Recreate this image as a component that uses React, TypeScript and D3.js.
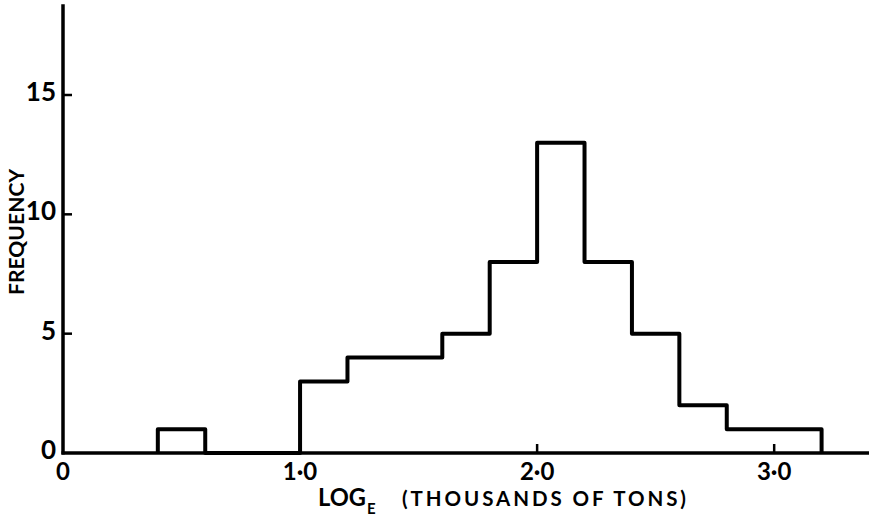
import React from "react";
import * as d3 from "d3";

// histogram bins (log_e thousands of tons), width 0.2
const binStarts = [0.4, 0.6, 0.8, 1.0, 1.2, 1.4, 1.6, 1.8, 2.0, 2.2, 2.4, 2.6, 2.8, 3.0];
const frequencies = [1, 0, 0, 3, 4, 4, 5, 8, 13, 8, 5, 2, 1, 1];
const binWidth = 0.2;

const yTicks = [0, 5, 10, 15];
const xTicks = [0, 1, 2, 3];
const xTickLabels = ["0", "1\u00b70", "2\u00b70", "3\u00b70"];

const WIDTH = 874;
const HEIGHT = 523;
const FONT = "Lato, 'Open Sans', sans-serif";

const App: React.FC = () => {
  const x = d3.scaleLinear().domain([0, 3.4]).range([63, 869]);
  const y = d3.scaleLinear().domain([0, 15]).range([453, 95]);

  // outline of the histogram as one step path
  const pts: [number, number][] = [[binStarts[0], 0]];
  binStarts.forEach((b, i) => {
    pts.push([b, frequencies[i]]);
    pts.push([b + binWidth, frequencies[i]]);
  });
  pts.push([binStarts[binStarts.length - 1] + binWidth, 0]);

  const outline = d3
    .line<[number, number]>()
    .x((d) => x(d[0]))
    .y((d) => y(d[1]))(pts);

  const x0 = x(0);
  const y0 = y(0);

  return (
    <div style={{ position: "absolute", left: 0, top: 0 }}>
      <svg width={WIDTH} height={HEIGHT} style={{ display: "block", background: "#fff" }}>
        {/* axes */}
        <line x1={x0} y1={y(18.8)} x2={x0} y2={y0 + 1.5} stroke="#000" strokeWidth={3.5} />
        <line x1={x0 - 1.5} y1={y0} x2={x(3.4)} y2={y0} stroke="#000" strokeWidth={3.5} />

        {/* y ticks */}
        {yTicks.map((t) => (
          <g key={"y" + t}>
            {t > 0 && (
              <line x1={x0} y1={y(t)} x2={x0 + 9} y2={y(t)} stroke="#000" strokeWidth={2.5} />
            )}
            <text
              x={x0 - 7}
              y={y(t) - 4}
              textAnchor="end"
              dominantBaseline="central"
              fontFamily={FONT}
              fontWeight="bold"
              fontSize={26}
            >
              {t}
            </text>
          </g>
        ))}

        {/* x ticks */}
        {xTicks.map((t, i) => (
          <g key={"x" + t}>
            {t > 0 && (
              <line x1={x(t)} y1={y0} x2={x(t)} y2={y0 - 9} stroke="#000" strokeWidth={2.5} />
            )}
            <text
              x={x(t)}
              y={y0 + 27}
              textAnchor="middle"
              fontFamily={FONT}
              fontWeight="bold"
              fontSize={24}
            >
              {xTickLabels[i]}
            </text>
          </g>
        ))}

        {/* histogram */}
        <path d={outline ?? ""} fill="none" stroke="#000" strokeWidth={4} strokeLinejoin="round" />

        {/* axis titles */}
        <text
          transform={`translate(24, 232) rotate(-90)`}
          textAnchor="middle"
          fontFamily={FONT}
          fontWeight="bold"
          fontSize={21}
          textLength={126}
          lengthAdjust="spacing"
        >
          FREQUENCY
        </text>
        <text x={318} y={506} fontFamily={FONT} fontWeight="bold" fontSize={25} textLength={48} lengthAdjust="spacingAndGlyphs">
          LOG
        </text>
        <text x={367} y={514} fontFamily={FONT} fontWeight="bold" fontSize={15}>
          E
        </text>
        <text
          x={402}
          y={506}
          fontFamily={FONT}
          fontWeight="bold"
          fontSize={20.5}
          textLength={284}
          lengthAdjust="spacing"
        >
          (THOUSANDS OF TONS)
        </text>
      </svg>
    </div>
  );
};

export default App;
